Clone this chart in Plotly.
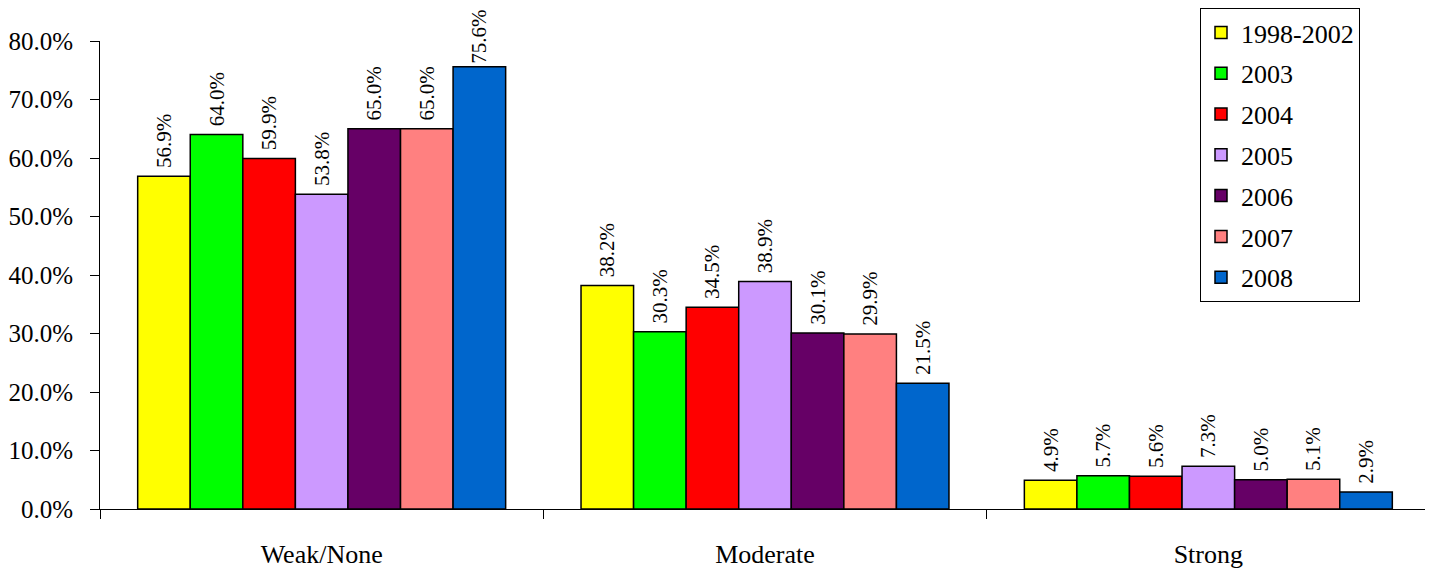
import plotly.graph_objects as go

categories = ["Weak/None", "Moderate", "Strong"]
series_names = ["1998-2002", "2003", "2004", "2005", "2006", "2007", "2008"]
v_1998_2002 = [56.9, 38.2, 4.9]
v_2003 = [64.0, 30.3, 5.7]
v_2004 = [59.9, 34.5, 5.6]
v_2005 = [53.8, 38.9, 7.3]
v_2006 = [65.0, 30.1, 5.0]
v_2007 = [65.0, 29.9, 5.1]
v_2008 = [75.6, 21.5, 2.9]
series_values = [v_1998_2002, v_2003, v_2004, v_2005, v_2006, v_2007, v_2008]
colors = ["#FFFF00", "#00FF00", "#FF0000", "#CC99FF", "#660066", "#FF8080", "#0066CC"]
y_ticks = [0, 10, 20, 30, 40, 50, 60, 70, 80]

FONT = "Times New Roman"
W, H = 1425, 565

fig = go.Figure()
for name, vals, col in zip(series_names, series_values, colors):
    # a small leading pad separates labels from bar tops; the tallest bar skips it to stay on the page
    templates = ["%{y:.1f}%" if v > 72 else "\u00a0%{y:.1f}%" for v in vals]
    fig.add_trace(go.Bar(
        x=categories, y=vals, name=name, legendgroup=name,
        marker=dict(color=col, line=dict(color="black", width=1.5)),
        texttemplate=templates, textposition="outside", textangle=-90,
        textfont=dict(family=FONT, size=21, color="black"),
        constraintext="none", cliponaxis=False,
    ))

fig.update_layout(
    width=W, height=H,
    margin=dict(l=92, r=3, t=33, b=64, autoexpand=False),
    paper_bgcolor="white", plot_bgcolor="white",
    barmode="group", bargap=0.17, bargroupgap=0,
    font=dict(family=FONT, size=26, color="black"),
    showlegend=True,
    legend=dict(
        xref="container", yref="container",
        x=(1200 - 8) / W, y=1.0, xanchor="left", yanchor="top",
        bordercolor="black", borderwidth=1, bgcolor="white",
        font=dict(family=FONT, size=26, color="black"),
        tracegroupgap=4, traceorder="grouped", itemwidth=30,
        maxheight=1.0,
    ),
    xaxis=dict(
        showline=True, linecolor="black", linewidth=1,
        ticks="outside", tickson="boundaries", ticklen=9, tickcolor="black",
        tickfont=dict(family=FONT, size=26), showgrid=False,
        ticklabelstandoff=22, automargin=False,
    ),
    yaxis=dict(
        range=[0, 80], tickvals=y_ticks, ticktext=[f"{t:.1f}%" for t in y_ticks],
        showline=True, linecolor="black", linewidth=1,
        ticks="outside", ticklen=9, tickcolor="black",
        tickfont=dict(family=FONT, size=25), showgrid=False, zeroline=False,
        ticklabelstandoff=12, automargin=False,
    ),
)

fig.write_html("out.html")
